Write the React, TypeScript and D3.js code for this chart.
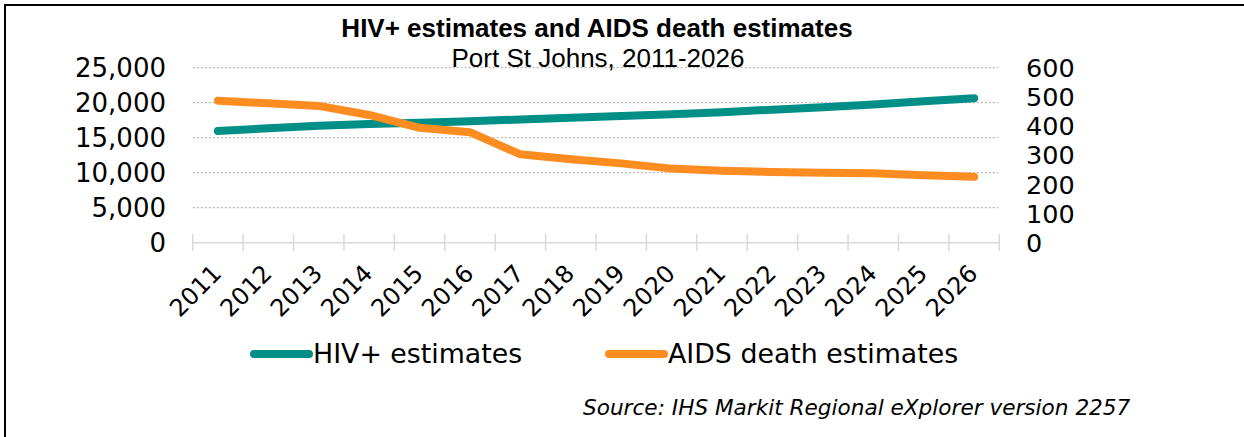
import * as d3 from 'd3';

const years = [
  '2011', '2012', '2013', '2014', '2015', '2016', '2017', '2018',
  '2019', '2020', '2021', '2022', '2023', '2024', '2025', '2026',
];

const hivEstimates = [
  15960, 16350, 16700, 16950, 17150, 17350, 17600, 17850,
  18100, 18350, 18650, 19000, 19350, 19750, 20200, 20630,
];

const aidsDeaths = [
  487, 478, 469, 438, 394, 379, 303, 286,
  272, 254, 247, 242, 240, 238, 231, 226,
];

const leftTicks = [0, 5000, 10000, 15000, 20000, 25000];
const rightTicks = [0, 100, 200, 300, 400, 500, 600];

const TEAL = '#008f86';
const ORANGE = '#fd8d21';
const VERDANA = '"DejaVu Sans", Verdana, sans-serif';
const ARIAL = '"Liberation Sans", Arial, sans-serif';

export default function App() {
  const width = 1244;
  const height = 437;

  const x = d3.scaleBand<string>().domain(years).range([192.7, 999.3]).padding(0);
  const cx = (y: string) => (x(y) ?? 0) + x.bandwidth() / 2;

  const yLeft = d3.scaleLinear().domain([0, 25000]).range([242.7, 67.7]);
  const yRight = d3.scaleLinear().domain([0, 600]).range([242.7, 67.7]);

  const hivLine = d3
    .line<number>()
    .x((_, i) => cx(years[i]))
    .y((d) => yLeft(d))(hivEstimates);

  const aidsLine = d3
    .line<number>()
    .x((_, i) => cx(years[i]))
    .y((d) => yRight(d))(aidsDeaths);

  const fmt = d3.format(',');
  const [x0, x1] = x.range();

  return (
    <svg
      width={width}
      height={height}
      style={{ position: 'absolute', left: 0, top: 0, background: '#fff' }}
    >
      <rect x={5} y={5} width={width + 10} height={height + 10} fill="#fff" stroke="#000" strokeWidth={2} />

      {/* title */}
      <text x={597} y={37} textAnchor="middle" fontFamily={ARIAL} fontWeight="bold" fontSize={26}>
        HIV+ estimates and AIDS death estimates
      </text>
      <text x={598} y={67} textAnchor="middle" fontFamily={ARIAL} fontSize={26}>
        Port St Johns, 2011-2026
      </text>

      {/* gridlines */}
      {leftTicks.filter((t) => t > 0).map((t) => (
        <line
          key={t}
          x1={x0}
          x2={x1 - 1}
          y1={yLeft(t)}
          y2={yLeft(t)}
          stroke="#a6a6a6"
          strokeWidth={1}
          strokeDasharray="2 2"
        />
      ))}

      {/* x axis */}
      <line x1={x0} x2={x1} y1={yLeft(0)} y2={yLeft(0)} stroke="#d9d9d9" strokeWidth={1.5} />
      {years.map((yr) => (
        <line key={yr} x1={x(yr)} x2={x(yr)} y1={234} y2={251} stroke="#d9d9d9" strokeWidth={1.5} />
      ))}
      <line x1={x1} x2={x1} y1={234} y2={251} stroke="#d9d9d9" strokeWidth={1.5} />

      {/* left axis labels */}
      {leftTicks.map((t) => (
        <text
          key={t}
          x={166}
          y={yLeft(t)}
          dy="0.36em"
          textAnchor="end"
          fontFamily={VERDANA}
          fontSize={26}
        >
          {fmt(t)}
        </text>
      ))}

      {/* right axis labels */}
      {rightTicks.map((t) => (
        <text
          key={t}
          x={1026}
          y={yRight(t)}
          dy="0.36em"
          textAnchor="start"
          fontFamily={VERDANA}
          fontSize={25.5}
        >
          {t}
        </text>
      ))}

      {/* year labels */}
      {years.map((yr) => (
        <text
          key={yr}
          transform={`translate(${cx(yr) + 5},${275}) rotate(-45)`}
          textAnchor="end"
          fontFamily={VERDANA}
          fontSize={24}
        >
          {yr}
        </text>
      ))}

      {/* series */}
      <path d={hivLine ?? ''} fill="none" stroke={TEAL} strokeWidth={8} strokeLinecap="round" strokeLinejoin="round" />
      <path d={aidsLine ?? ''} fill="none" stroke={ORANGE} strokeWidth={8} strokeLinecap="round" strokeLinejoin="round" />

      {/* legend */}
      <line x1={254} x2={309} y1={354} y2={354} stroke={TEAL} strokeWidth={8} strokeLinecap="round" />
      <text x={313} y={363} fontFamily={VERDANA} fontSize={26.8}>
        HIV+ estimates
      </text>
      <line x1={609} x2={664} y1={354} y2={354} stroke={ORANGE} strokeWidth={8} strokeLinecap="round" />
      <text x={668} y={363} fontFamily={VERDANA} fontSize={26.8}>
        AIDS death estimates
      </text>

      {/* source */}
      <text x={583} y={415} fontFamily={VERDANA} fontStyle="italic" fontSize={21.6}>
        Source: IHS Markit Regional eXplorer version 2257
      </text>
    </svg>
  );
}
